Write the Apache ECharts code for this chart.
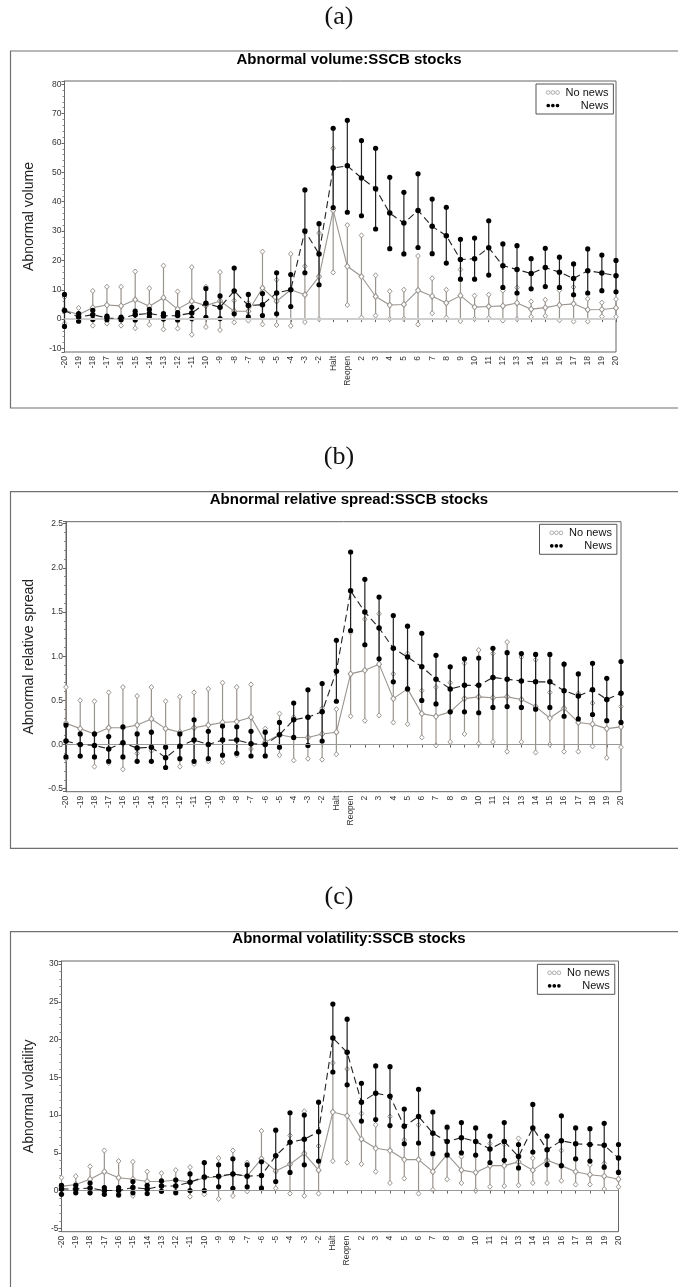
<!DOCTYPE html>
<html><head><meta charset="utf-8">
<script src="https://cdn.jsdelivr.net/npm/echarts@6/dist/echarts.min.js"></script>
<style>html,body{margin:0;padding:0;background:#fff}#c{width:678px;height:1287px}</style>
</head><body><div id="c"></div>
<script>
const categories = ['-20','-19','-18','-17','-16','-15','-14','-13','-12','-11','-10','-9','-8','-7','-6','-5','-4','-3','-2','Halt','Reopen','2','3','4','5','6','7','8','9','10','11','12','13','14','15','16','17','18','19','20'];

// (a) Abnormal volume
const volNoNewsMean  = [3.0,1.6,3.9,4.8,4.5,6.6,4.4,7.3,3.4,6.1,4.6,6.2,2.7,2.7,10.6,6.1,10.0,8.3,14.5,37.0,18.0,14.5,7.7,4.8,5.0,9.8,7.8,5.5,8.0,4.1,4.3,4.5,5.5,3.4,3.9,4.8,5.2,3.2,3.3,3.8];
const volNoNewsUpper = [7.5,3.8,9.6,11.0,11.0,16.2,10.5,18.2,9.4,17.7,11.0,16.0,6.3,5.5,23.0,13.4,22.2,18.0,29.3,58.2,32.0,28.5,14.9,9.5,10.0,21.5,13.9,10.0,16.9,8.0,8.3,9.7,10.7,6.0,6.6,9.8,10.9,6.9,5.6,6.8];
const volNoNewsLower = [-1.5,-0.2,-2.2,-1.5,-2.2,-3.1,-1.9,-3.5,-3.2,-5.3,-2.7,-3.7,-1.1,-0.5,-1.8,-2.0,-2.3,-1.0,0.0,15.9,4.8,0.5,1.2,0.0,0.1,-1.8,2.0,0.5,-0.7,0.1,0.4,-0.5,0.0,0.8,1.1,-0.4,-0.8,-0.8,0.9,0.8];
const volNewsMean    = [2.9,0.7,1.5,0.4,0.2,1.5,1.9,1.1,1.2,2.1,5.4,4.0,9.6,4.6,4.9,8.9,10.0,30.0,22.2,51.5,52.2,48.1,44.4,36.1,32.7,37.0,31.6,28.4,20.3,20.6,24.3,18.2,16.9,15.5,17.6,16.0,13.8,16.5,15.7,14.8];
const volNewsUpper   = [8.4,1.9,3.0,1.0,0.7,2.7,3.3,1.9,2.2,4.0,10.4,7.9,17.4,8.4,8.7,15.8,15.2,44.0,32.5,65.0,67.7,60.8,58.2,48.3,43.2,49.5,40.9,38.1,27.2,27.6,33.5,25.6,25.0,20.6,24.1,21.1,18.8,23.9,21.8,20.0];
const volNewsLower   = [-2.5,-0.7,-0.1,-0.2,-0.2,-0.3,0.8,0.0,-0.3,0.2,0.6,0.2,1.8,0.8,1.2,1.8,4.3,15.8,11.7,38.0,36.4,35.2,30.7,24.0,22.2,24.4,22.3,19.1,13.6,13.6,15.0,10.8,8.9,10.3,11.1,10.8,8.3,8.9,9.7,9.3];

// (b) Abnormal relative spread
const sprNoNewsMean  = [0.24,0.18,0.12,0.19,0.19,0.22,0.29,0.18,0.14,0.19,0.22,0.25,0.26,0.31,0.03,0.11,0.08,0.08,0.12,0.14,0.80,0.84,0.91,0.52,0.63,0.35,0.32,0.37,0.52,0.54,0.53,0.54,0.51,0.43,0.30,0.41,0.25,0.23,0.18,0.20];
const sprNoNewsUpper = [0.65,0.50,0.49,0.59,0.65,0.55,0.65,0.49,0.54,0.59,0.63,0.70,0.65,0.68,0.18,0.35,0.31,0.31,0.41,0.40,1.27,1.42,1.48,0.80,1.03,0.61,0.65,0.70,0.92,1.07,1.03,1.16,0.99,0.96,0.59,0.91,0.58,0.47,0.50,0.43];
const sprNoNewsLower = [-0.16,-0.13,-0.25,-0.21,-0.28,-0.10,-0.07,-0.15,-0.25,-0.22,-0.19,-0.20,-0.12,-0.05,-0.12,-0.12,-0.18,-0.16,-0.17,-0.11,0.32,0.27,0.33,0.25,0.23,0.08,-0.01,0.03,0.12,0.01,0.03,-0.08,0.03,-0.09,0.00,-0.08,-0.08,-0.02,-0.15,-0.03];
const sprNewsMean    = [0.04,0.00,-0.01,-0.05,0.02,-0.04,-0.03,-0.15,-0.02,0.05,0.00,0.05,0.05,0.01,0.00,0.11,0.28,0.31,0.37,0.83,1.74,1.50,1.32,1.09,0.99,0.88,0.74,0.63,0.67,0.67,0.76,0.74,0.72,0.71,0.71,0.61,0.55,0.62,0.51,0.58];
const sprNewsUpper   = [0.22,0.12,0.12,0.09,0.20,0.12,0.14,-0.03,0.12,0.28,0.15,0.21,0.20,0.15,0.14,0.25,0.47,0.62,0.69,1.18,2.18,1.87,1.67,1.46,1.34,1.26,1.01,0.88,0.97,0.98,1.09,1.04,1.03,1.02,1.02,0.91,0.80,0.92,0.75,0.94];
const sprNewsLower   = [-0.14,-0.13,-0.14,-0.19,-0.14,-0.19,-0.19,-0.26,-0.16,-0.19,-0.16,-0.12,-0.10,-0.13,-0.13,-0.03,0.08,-0.01,0.04,0.49,1.29,1.13,0.97,0.71,0.63,0.50,0.46,0.37,0.37,0.36,0.42,0.43,0.42,0.40,0.42,0.32,0.29,0.34,0.27,0.25];

// (c) Abnormal volatility
const volaNoNewsMean  = [0.55,0.8,1.5,2.5,1.7,1.5,1.2,1.2,1.4,1.1,1.7,1.8,2.2,1.9,4.2,2.6,3.5,4.9,2.7,10.4,9.9,6.8,5.6,5.3,4.1,4.1,2.5,4.8,2.7,2.4,3.3,3.3,3.8,2.7,4.0,3.3,2.5,2.1,1.9,1.5];
const volaNoNewsUpper = [1.7,1.9,3.2,5.3,3.9,3.8,2.5,2.3,2.7,3.1,3.6,4.3,5.3,3.7,7.9,4.6,7.3,10.5,5.9,16.9,16.1,10.2,8.7,9.8,6.7,8.7,4.7,8.2,4.5,4.6,6.2,6.1,6.9,4.3,7.2,5.3,4.1,3.4,3.6,2.5];
const volaNoNewsLower = [-0.4,-0.2,-0.3,-0.2,-0.4,-0.7,0.0,0.0,-0.1,-0.8,-0.5,-1.1,-0.7,-0.1,0.5,0.3,-0.4,-0.7,-0.4,3.9,3.7,3.5,2.5,1.0,1.6,-0.4,0.1,1.5,1.0,0.0,0.5,0.6,0.7,1.0,1.0,1.3,0.8,0.8,0.2,0.5];
const volaNewsMean    = [0.2,0.2,0.35,0.0,0.0,0.4,0.2,0.6,0.6,1.1,1.8,1.9,2.2,1.9,2.0,4.6,6.4,6.8,7.8,20.2,18.3,11.7,12.9,12.5,8.5,9.8,7.6,6.5,7.0,6.5,5.5,6.5,4.5,8.3,5.4,6.6,6.2,6.1,6.0,4.3];
const volaNewsUpper   = [0.7,0.7,1.0,0.4,0.4,1.2,0.7,1.3,1.4,2.2,3.7,3.4,4.2,3.4,3.8,8.0,10.3,10.0,11.7,24.7,22.7,14.2,16.5,16.4,10.8,13.4,10.4,8.4,9.0,8.3,7.2,9.0,6.1,11.4,7.2,9.9,8.3,8.2,8.9,6.1];
const volaNewsLower   = [-0.5,-0.3,-0.3,-0.5,-0.6,-0.3,-0.4,-0.1,-0.3,0.0,0.0,0.5,0.3,0.5,0.3,1.2,2.4,3.4,3.9,15.7,14.0,9.2,9.4,8.6,6.2,6.3,4.9,4.7,5.0,4.7,3.7,4.0,3.0,5.1,3.4,3.3,4.2,3.9,3.1,2.4];

const panelTitles = ['Abnormal volume:SSCB stocks','Abnormal relative spread:SSCB stocks','Abnormal volatility:SSCB stocks'];
const yNames = ['Abnormal volume','Abnormal relative spread','Abnormal volatility'];
const panelLetters = ['(a)','(b)','(c)'];

const GREY = '#9a948f';
const FONT = '"Liberation Sans", Arial, sans-serif';
const ICON = 'path://M0,2A2,2,0,1,0,4,2A2,2,0,1,0,0,2ZM5,2A2,2,0,1,0,9,2A2,2,0,1,0,5,2ZM10,2A2,2,0,1,0,14,2A2,2,0,1,0,10,2Z';

const layout = [
  {grid:{left:64.5,top:81,width:551.5,height:271}, min:-11.2, max:81.1, split:9, dec:0, gap:28, leg:{left:536,top:84}, box:51, boxH:357, titleTop:52, letterTop:4, zero:{color:'#cfcfcf',width:2}},
  {grid:{left:66,top:521.7,width:555,height:270}, min:-0.534, max:2.523, split:6, dec:1, gap:29.5, leg:{left:539.5,top:524.3}, box:491.7, boxH:356.6, titleTop:492, letterTop:444.5, zero:{color:'#999',width:1}},
  {grid:{left:61.5,top:961,width:557,height:270.7}, min:-5.45, max:30.4, split:7, dec:0, gap:25, leg:{left:537.4,top:964.3}, box:931.7, boxH:420, titleTop:931.5, letterTop:884.5, zero:{color:'#999',width:1}}
];
const dataSets = [
  [volNoNewsMean, volNoNewsUpper, volNoNewsLower, volNewsMean, volNewsUpper, volNewsLower],
  [sprNoNewsMean, sprNoNewsUpper, sprNoNewsLower, sprNewsMean, sprNewsUpper, sprNewsLower],
  [volaNoNewsMean, volaNoNewsUpper, volaNoNewsLower, volaNewsMean, volaNewsUpper, volaNewsLower]
];

function errRender(kind) {
  return function (params, api) {
    const x = api.value(0);
    const lo = api.coord([x, api.value(1)]);
    const hi = api.coord([x, api.value(2)]);
    const color = kind === 'news' ? '#222' : GREY;
    const children = [{type:'line', shape:{x1:lo[0],y1:lo[1],x2:hi[0],y2:hi[1]}, style:{stroke:color, lineWidth:1.2}}];
    [lo, hi].forEach(function (p) {
      if (kind === 'news') {
        children.push({type:'circle', shape:{cx:p[0], cy:p[1], r:2.6}, style:{fill:'#000'}});
      } else {
        children.push({type:'polygon', shape:{points:[[p[0],p[1]-2.6],[p[0]+2.3,p[1]],[p[0],p[1]+2.6],[p[0]-2.3,p[1]]]}, style:{fill:'#fff', stroke:GREY, lineWidth:1}});
      }
    });
    return {type:'group', children: children};
  };
}

const option = {
  animation:false,
  textStyle:{fontFamily:FONT},
  title:[], grid:[], xAxis:[], yAxis:[], legend:[], series:[], graphic:[]
};

layout.forEach(function (L, i) {
  const d = dataSets[i];
  option.title.push({text:panelLetters[i], left:'center', top:L.letterTop, padding:0,
    textStyle:{fontFamily:'"Liberation Serif", "DejaVu Serif", serif', fontSize:26, fontWeight:'normal', color:'#111'}});
  option.title.push({text:panelTitles[i], left:349, textAlign:'center', top:L.titleTop, padding:0,
    textStyle:{fontFamily:FONT, fontSize:15, fontWeight:'bold', color:'#000'}});
  option.graphic.push({type:'rect', silent:true, z:-1, shape:{x:10.5, y:L.box, width:700, height:L.boxH},
    style:{fill:'none', stroke:'#707070', lineWidth:1.2}});
  option.grid.push(Object.assign({show:true, borderColor:'#666', borderWidth:1, backgroundColor:'transparent'}, L.grid));
  option.xAxis.push({type:'category', gridIndex:i, data:categories, boundaryGap:false,
    axisLine:{show:true, lineStyle:{color:'#666'}},
    axisTick:{show:true, length:3, lineStyle:{color:'#666'}},
    axisLabel:{rotate:90, interval:0, fontSize:8.5, color:'#333', margin:4},
    splitLine:{show:false}});
  option.yAxis.push({type:'value', gridIndex:i, min:L.min, max:L.max, splitNumber:L.split,
    name:yNames[i], nameLocation:'middle', nameGap:L.gap, nameTextStyle:{fontSize:14, color:'#222'},
    axisLine:{show:true, lineStyle:{color:'#666'}},
    axisTick:{show:true, length:3, lineStyle:{color:'#666'}},
    minorTick:{show:true, splitNumber:5, length:2, lineStyle:{color:'#888'}},
    axisLabel:{fontSize:8.5, color:'#333', margin:3, showMinLabel:false, showMaxLabel:false,
      formatter:(function (dec) { return function (v) { return v.toFixed(dec); }; })(L.dec)},
    splitLine:{show:false}});
  option.legend.push({left:L.leg.left, top:L.leg.top, orient:'vertical', padding:[3,5,3,10], itemGap:2,
    itemWidth:13, itemHeight:3.7, borderColor:'#555', borderWidth:1, backgroundColor:'#fff', selectedMode:false,
    data:[{name:'No news', icon:ICON, itemStyle:{color:'#fff', borderColor:'#999', borderWidth:0.8}},
          {name:'News', icon:ICON, itemStyle:{color:'#000', borderWidth:0}}],
    formatter:function (n) { return '{t|' + n + '}'; },
    textStyle:{fontSize:11, color:'#111', rich:{t:{width:44, align:'right', fontSize:11, color:'#111'}}}});
  const noNewsBars = categories.map(function (c, k) { return [k, d[2][k], d[1][k]]; });
  const newsBars = categories.map(function (c, k) { return [k, d[5][k], d[4][k]]; });
  option.series.push({type:'custom', name:'No news bars', xAxisIndex:i, yAxisIndex:i, renderItem:errRender('nonews'),
    data:noNewsBars, encode:{x:0, y:[1,2]}, z:2, silent:true});
  option.series.push({type:'line', name:'No news', xAxisIndex:i, yAxisIndex:i, data:d[0], z:3,
    symbol:'diamond', symbolSize:[5,6], showAllSymbol:true,
    itemStyle:{color:'#fff', borderColor:GREY, borderWidth:1},
    lineStyle:{color:GREY, width:1.1},
    markLine:{silent:true, symbol:'none', label:{show:false}, animation:false,
      lineStyle:{color:L.zero.color, width:L.zero.width, type:'solid'}, data:[{yAxis:0}]}});
  option.series.push({type:'custom', name:'News bars', xAxisIndex:i, yAxisIndex:i, renderItem:errRender('news'),
    data:newsBars, encode:{x:0, y:[1,2]}, z:4, silent:true});
  option.series.push({type:'line', name:'News', xAxisIndex:i, yAxisIndex:i, data:d[3], z:5,
    symbol:'circle', symbolSize:5.5, showAllSymbol:true,
    itemStyle:{color:'#000'},
    lineStyle:{color:'#222', width:1.1, type:[7,4]}});
});

const chart = echarts.init(document.getElementById('c'), null, {renderer:'canvas'});
chart.setOption(option);
</script>
</body></html>
